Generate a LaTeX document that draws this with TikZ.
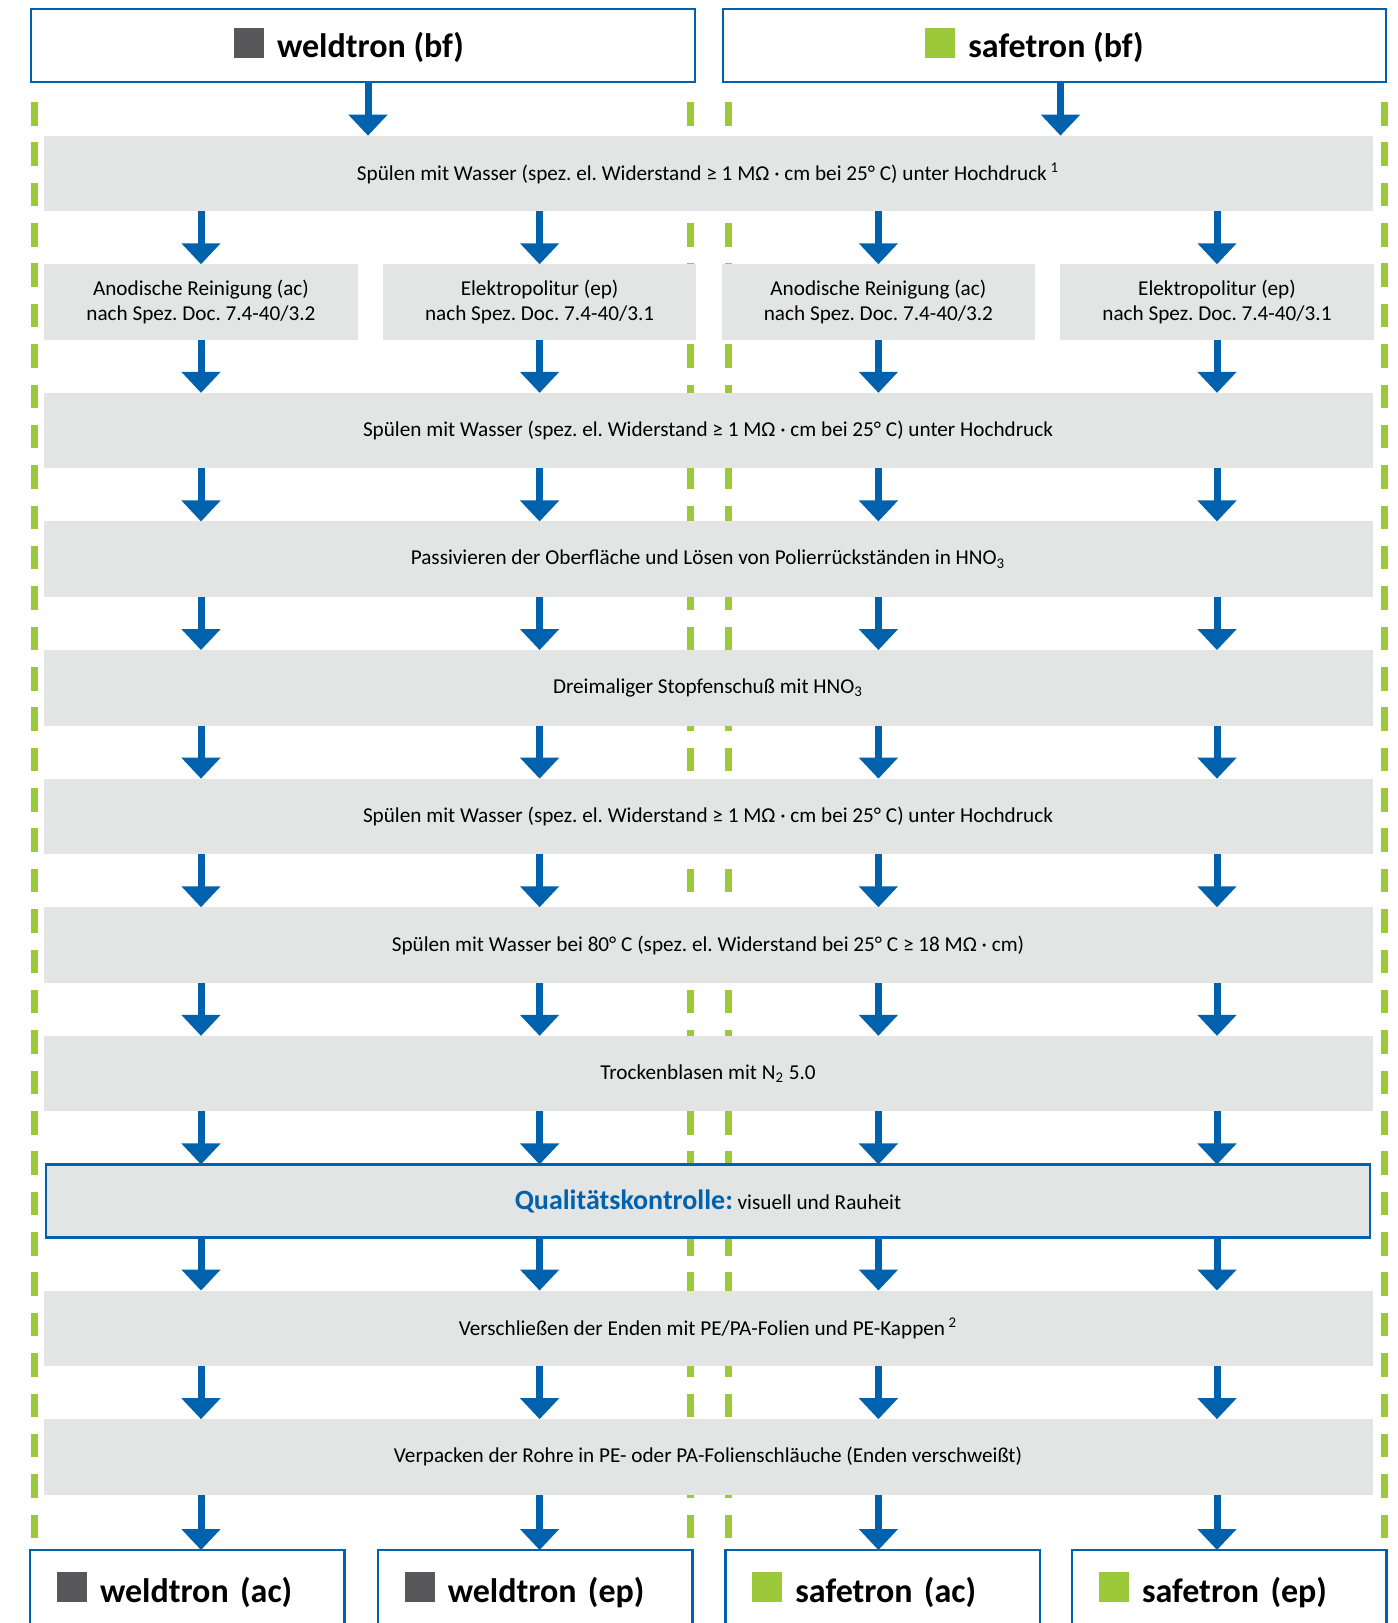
\documentclass[tikz,border=0pt]{standalone}
\usepackage{fontspec}
\setmainfont{Carlito}
\usetikzlibrary{positioning,arrows.meta}
\definecolor{flowblue}{HTML}{0062AD}
\definecolor{lime}{HTML}{9BC93A}
\definecolor{panel}{HTML}{E3E4E4}
\definecolor{ink}{HTML}{58585A}
\newcommand{\prodsq}[1]{\textcolor{#1}{\rule{15pt}{15pt}}\hspace{6.5pt}}
\newcommand{\hno}{HNO\textsubscript{3}}

\begin{document}
\begin{tikzpicture}[x=1pt, y=1pt, node distance=26.55pt,
  every node/.style={font=\fontsize{10.6}{12.4}\selectfont\frenchspacing, inner sep=0pt, outer sep=0pt},
  band/.style={fill=panel, minimum width=664.5pt, minimum height=37.75pt, align=center},
  half/.style={fill=panel, minimum width=156.75pt, minimum height=37.75pt, align=center},
  prodbox/.style={draw=flowblue, line width=1.2pt, fill=white, minimum height=36.5pt, font=\fontsize{17}{20}\selectfont\bfseries},
  endbox/.style={prodbox, minimum height=40pt, text width=130.3pt, inner xsep=13.5pt, align=left, anchor=north},
  flow/.style={draw=flowblue, line width=3.5pt, -{Triangle[width=19pt,length=10.5pt]}},
  guide/.style={draw=lime, line width=3.5pt, dash pattern=on 11.75pt off 8.43pt}]
  \useasboundingbox (0,0) rectangle (699,-811.5);

  % green separators behind the steps
  \foreach \x in {17,345.3,364.2,692} \draw[guide] (\x,-51) -- (\x,-769);

  \node[prodbox, minimum width=332pt] (wbf) at (181.5,-22.75) {\prodsq{ink}weldtron (bf)\kern14pt};
  \node[prodbox, minimum width=331.5pt] (sbf) at (527.25,-22.75) {\prodsq{lime}safetron (bf)\kern20pt};

  \node[band] (r1) at (354,-86.7) {Spülen mit Wasser (spez. el. Widerstand ≥ 1 MΩ · cm bei 25° C) unter Hochdruck\,\textsuperscript{1}};
  \node[half] (r2a) at (100.5,-151) {Anodische Reinigung (ac)\\nach Spez. Doc. 7.4-40/3.2};
  \node[half] (r2b) at (269.8,-151) {Elektropolitur (ep)\\nach Spez. Doc. 7.4-40/3.1};
  \node[half] (r2c) at (439.2,-151) {Anodische Reinigung (ac)\\nach Spez. Doc. 7.4-40/3.2};
  \node[half] (r2d) at (608.5,-151) {Elektropolitur (ep)\\nach Spez. Doc. 7.4-40/3.1};
  \node[band] (r3) at (354,-215.3) {Spülen mit Wasser (spez. el. Widerstand ≥ 1 MΩ · cm bei 25° C) unter Hochdruck};
  \node[band, below=of r3] (r4) {Passivieren der Oberfläche und Lösen von Polierrückständen in \hno};
  \node[band, below=of r4] (r5) {Dreimaliger Stopfenschuß mit \hno};
  \node[band, below=of r5] (r6) {Spülen mit Wasser (spez. el. Widerstand ≥ 1 MΩ · cm bei 25° C) unter Hochdruck};
  \node[band, below=of r6] (r7) {Spülen mit Wasser bei 80° C (spez. el. Widerstand bei 25° C ≥ 18 MΩ · cm)};
  \node[band, below=of r7] (r8) {Trockenblasen mit N\textsubscript{2} 5.0};
  \node[band, below=of r8, draw=flowblue, line width=1.2pt, minimum width=662.2pt, minimum height=36.5pt] (r9)
    {{\color{flowblue}\fontsize{14}{16}\selectfont\bfseries Qualitätskontrolle:} visuell und Rauheit};
  \node[band, below=of r9] (r10) {Verschließen der Enden mit PE/PA-Folien und PE-Kappen\,\textsuperscript{2}};
  \node[band, below=of r10] (r11) {Verpacken der Rohre in PE- oder PA-Folienschläuche (Enden verschweißt)};

  \node[endbox] (wac) at (93.65,-775) {\prodsq{ink}weldtron (ac)};
  \node[endbox] (wep) at (267.55,-775) {\prodsq{ink}weldtron (ep)};
  \node[endbox] (sac) at (441.35,-775) {\prodsq{lime}safetron (ac)};
  \node[endbox] (sep) at (614.65,-775) {\prodsq{lime}safetron (ep)};

  \draw[flow] ([xshift=2.5pt]wbf.south) -- ([xshift=2.5pt]wbf.south |- r1.north);
  \draw[flow] ([xshift=3pt]sbf.south) -- ([xshift=3pt]sbf.south |- r1.north);
  \foreach \c in {r2a,r2b,r2c,r2d} {
    \draw[flow] (r1.south -| \c) -- (\c);
    \draw[flow] (\c) -- (\c |- r3.north);
  }
  \foreach \a/\b in {r3/r4,r4/r5,r5/r6,r6/r7,r7/r8,r8/r9,r9/r10,r10/r11}
    \foreach \c in {r2a,r2b,r2c,r2d}
      \draw[flow] (\a.south -| \c) -- (\b.north -| \c);
  \foreach \c/\e in {r2a/wac,r2b/wep,r2c/sac,r2d/sep}
    \draw[flow] (r11.south -| \c) -- (\e.north -| \c);
\end{tikzpicture}
\end{document}
